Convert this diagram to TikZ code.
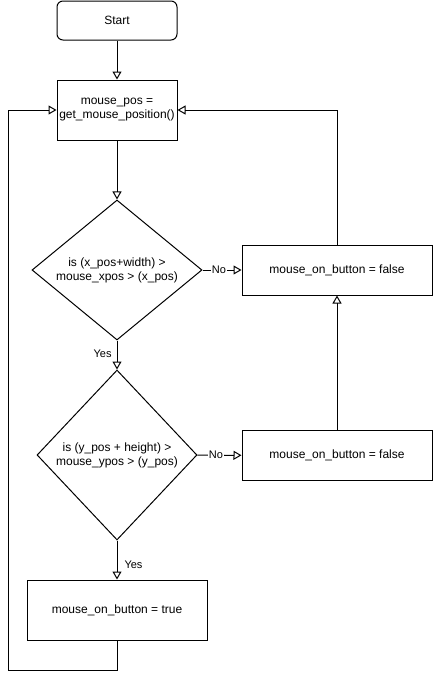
\documentclass[tikz,border=0pt]{standalone}
\usepackage{fontspec}
\setmainfont{Liberation Sans}
\usetikzlibrary{shapes.geometric, arrows.meta}

\begin{document}
\begin{tikzpicture}[x=1pt, y=-1pt]

\tikzset{box/.style = {shape=rectangle, draw, line width=1pt, align=center, inner sep=0pt, font=\fontsize{12}{14}\selectfont}}
\tikzset{decision/.style = {shape=diamond, draw, line width=1pt, align=center, inner sep=0pt, font=\fontsize{12}{14}\selectfont}}
\tikzset{edge/.style = {line width=1pt, -{Triangle[open, length=8pt, width=9pt]}}}
\tikzset{tag/.style = {font=\fontsize{11}{13}\selectfont, inner sep=1pt}}
\useasboundingbox (0,0) rectangle (434,680);
%boxes
\node[box, rounded corners=6pt, minimum width=120pt, minimum height=39pt] (start) at (117,20.5) {Start};
\node[box, minimum width=120pt, minimum height=60pt] (pos) at (117,110) {mouse\_pos =\\get\_mouse\_position()};
\node[decision, aspect=1.2, minimum width=170pt, minimum height=140pt] (xcheck) at (117,270) {is (x\_pos+width) \textgreater\\mouse\_xpos \textgreater{} (x\_pos)};
\node[decision, minimum width=160pt, minimum height=170pt] (ycheck) at (117,455) {is (y\_pos + height) \textgreater\\mouse\_ypos \textgreater{} (y\_pos)};
\node[box, minimum width=190pt, minimum height=50pt] (xfalse) at (337,270) {mouse\_on\_button = false};
\node[box, minimum width=190pt, minimum height=50pt] (yfalse) at (337,455.5) {mouse\_on\_button = false};
\node[box, minimum width=180pt, minimum height=60pt] (true) at (117,610) {mouse\_on\_button = true};
\coordinate (back) at (8,670);
%edges
\draw [edge] (start) -- (pos);
\draw [edge] (pos) -- (xcheck);
\draw [edge] (xcheck) -- node [tag, fill=white, pos=0.42] {No} (xfalse);
\draw [edge] (xcheck) -- node [tag, left, pos=0.45, xshift=-4pt] {Yes} (ycheck);
\draw [edge] (ycheck) -- node [tag, fill=white, pos=0.42] {No} (yfalse);
\draw [edge] (ycheck) -- node [tag, right, pos=0.62, xshift=6pt] {Yes} (true);
\draw [edge] (yfalse) -- (xfalse);
\draw [edge] (xfalse) |- (pos);
\draw [edge] (true) |- (back) |- (pos);

\end{tikzpicture}
\end{document}
